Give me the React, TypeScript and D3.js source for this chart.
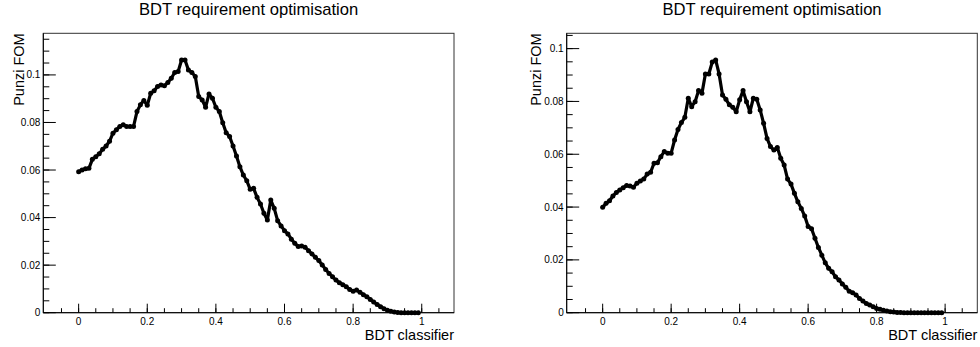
import React from "react";
import * as d3 from "d3";

// BDT classifier cut values (x) shared by both panels
const cutValues: number[] = d3.range(0, 100).map((i) => i / 100);

// Left panel Punzi FOM values
const fomLeft: number[] = [
  0.0593, 0.06, 0.0605, 0.0607, 0.0645, 0.0656, 0.0668, 0.0687, 0.0701, 0.0721,
  0.0755, 0.0769, 0.0783, 0.079, 0.0783, 0.0783, 0.0783, 0.0846, 0.0874, 0.0892,
  0.0872, 0.0923, 0.0933, 0.0951, 0.0958, 0.0954, 0.0968, 0.0986, 0.101, 0.1014,
  0.1063, 0.1063, 0.1021, 0.101, 0.0993, 0.0909, 0.0895, 0.0864, 0.092, 0.0902,
  0.0864, 0.0846, 0.0799, 0.0757, 0.0741, 0.0701, 0.0659, 0.0614, 0.0579, 0.0555,
  0.0519, 0.0523, 0.0485, 0.0457, 0.0418, 0.039, 0.0474, 0.0439, 0.0387, 0.0365,
  0.0345, 0.0331, 0.0309, 0.0292, 0.0278, 0.0281, 0.0275, 0.0261, 0.0247, 0.0233,
  0.0219, 0.0201, 0.0182, 0.0165, 0.0151, 0.0137, 0.0126, 0.0118, 0.0109, 0.0098,
  0.009, 0.0095, 0.0086, 0.0076, 0.0067, 0.0056, 0.0045, 0.0035, 0.0025, 0.0017,
  0.001, 0.0006, 0.0003, 0.0001, 0.0, 0.0, 0.0, 0.0, 0.0, 0.0,
];

// Right panel Punzi FOM values
const fomRight: number[] = [
  0.0399, 0.0414, 0.0424, 0.0442, 0.0455, 0.0465, 0.0473, 0.0482, 0.048, 0.0475,
  0.049, 0.0499, 0.0506, 0.0525, 0.0532, 0.0566, 0.0568, 0.0591, 0.061, 0.0604,
  0.0604, 0.0654, 0.0694, 0.072, 0.074, 0.0812, 0.078, 0.0799, 0.0841, 0.0831,
  0.0904, 0.0904, 0.0949, 0.0957, 0.0904, 0.0824, 0.0808, 0.0787, 0.0778, 0.0761,
  0.0806, 0.0841, 0.0799, 0.0761, 0.0812, 0.0808, 0.0768, 0.0717, 0.066, 0.0629,
  0.0616, 0.0626, 0.0585, 0.0559, 0.0506, 0.0487, 0.0452, 0.042, 0.0395, 0.0366,
  0.0326, 0.0318, 0.0282, 0.0247, 0.0218, 0.0189, 0.0168, 0.0155, 0.0136, 0.0124,
  0.0109, 0.0096, 0.0081, 0.0076, 0.0067, 0.0054, 0.0044, 0.0035, 0.0029, 0.0023,
  0.0016, 0.0013, 0.0009, 0.0006, 0.0004, 0.0003, 0.0001, 0.0001, 0.0, 0.0,
  0.0, 0.0, 0.0, 0.0, 0.0, 0.0, 0.0, 0.0, 0.0, 0.0,
];

const xMajorTicks: number[] = [0, 0.2, 0.4, 0.6, 0.8, 1];
const xTickLabels: string[] = ["0", "0.2", "0.4", "0.6", "0.8", "1"];
const yMajorTicksLeft: number[] = [0, 0.02, 0.04, 0.06, 0.08, 0.1];
const yTickLabelsLeft: string[] = ["0", "0.02", "0.04", "0.06", "0.08", "0.1"];
const yMajorTicksRight: number[] = [0, 0.02, 0.04, 0.06, 0.08, 0.1];
const yTickLabelsRight: string[] = ["0", "0.02", "0.04", "0.06", "0.08", "0.1"];

const chartTitle = "BDT requirement optimisation";
const xTitle = "BDT classifier";
const yTitle = "Punzi FOM";

const FONT = "'Liberation Sans', Arial, Helvetica, sans-serif";

type PanelProps = {
  left: number;
  right: number;
  top: number;
  bottom: number;
  xDomain: [number, number];
  yMax: number;
  values: number[];
  yTicks: number[];
  yLabels: string[];
  yTitleX: number;
};

function Panel(p: PanelProps) {
  const x = d3.scaleLinear().domain(p.xDomain).range([p.left, p.right]);
  const y = d3.scaleLinear().domain([0, p.yMax]).range([p.bottom, p.top]);
  const pts: [number, number][] = cutValues.map((c, i) => [c, p.values[i]]);
  const line = d3
    .line<[number, number]>()
    .x((d) => x(d[0]))
    .y((d) => y(d[1]));
  const xMinor = d3.range(-0.05, 1.1, 0.05).filter((v) => x(v) > p.left + 1 && x(v) < p.right - 1);
  const yMinor = d3.range(0, p.yMax, 0.005);
  const cx = (p.left + p.right) / 2;
  return (
    <g>
      <text x={cx} y={14.5} textAnchor="middle" fontFamily={FONT} fontSize={16.6} fill="#000">
        {chartTitle}
      </text>
      <rect
        x={p.left}
        y={p.top}
        width={p.right - p.left}
        height={p.bottom - p.top}
        fill="none"
        stroke="#333"
        strokeWidth={1}
      />
      {/* x ticks */}
      {xMinor.map((v, i) => (
        <line key={"xm" + i} x1={x(v)} x2={x(v)} y1={p.bottom} y2={p.bottom - 4.5} stroke="#000" strokeWidth={1} />
      ))}
      {xMajorTicks.map((v, i) => (
        <line key={"xM" + i} x1={x(v)} x2={x(v)} y1={p.bottom} y2={p.bottom - 9} stroke="#000" strokeWidth={1} />
      ))}
      {xMajorTicks.map((v, i) => (
        <text key={"xl" + i} x={x(v)} y={p.bottom + 12} textAnchor="middle" fontFamily={FONT} fontSize={10} fill="#000">
          {xTickLabels[i]}
        </text>
      ))}
      {/* y ticks */}
      {yMinor.map((v, i) => (
        <line key={"ym" + i} x1={p.left} x2={p.left + 6} y1={y(v)} y2={y(v)} stroke="#000" strokeWidth={1} />
      ))}
      {p.yTicks.map((v, i) => (
        <line key={"yM" + i} x1={p.left} x2={p.left + 12.5} y1={y(v)} y2={y(v)} stroke="#000" strokeWidth={1} />
      ))}
      {p.yTicks.map((v, i) => (
        <text key={"yl" + i} x={p.left - 3} y={y(v) + 3.5} textAnchor="end" fontFamily={FONT} fontSize={10} fill="#000">
          {p.yLabels[i]}
        </text>
      ))}
      <line x1={p.left} x2={p.right} y1={p.bottom} y2={p.bottom} stroke="#000" strokeWidth={1} />
      <line x1={p.left} x2={p.left} y1={p.top} y2={p.bottom} stroke="#000" strokeWidth={1} />
      {/* axis titles */}
      <text x={p.right} y={p.bottom + 27} textAnchor="end" fontFamily={FONT} fontSize={14.5} fill="#000">
        {xTitle}
      </text>
      <text
        transform={`translate(${p.yTitleX},${p.top}) rotate(-90)`}
        textAnchor="end"
        fontFamily={FONT}
        fontSize={14.5}
        fill="#000"
      >
        {yTitle}
      </text>
      {/* data */}
      <path d={line(pts) || ""} fill="none" stroke="#000" strokeWidth={3.2} strokeLinejoin="round" />
      {pts.map((d, i) => (
        <circle key={"pt" + i} cx={x(d[0])} cy={y(d[1])} r={2.5} fill="#000" />
      ))}
    </g>
  );
}

export default function App() {
  return (
    <svg
      width={980}
      height={347}
      style={{ position: "absolute", left: 0, top: 0, background: "#fff" }}
    >
      <rect x={0} y={0} width={980} height={347} fill="#fff" />
      <Panel
        left={43.3}
        right={454}
        top={33.3}
        bottom={312.7}
        xDomain={[-0.103, 1.094]}
        yMax={0.1175}
        values={fomLeft}
        yTicks={yMajorTicksLeft}
        yLabels={yTickLabelsLeft}
        yTitleX={24}
      />
      <Panel
        left={566.7}
        right={977.3}
        top={33.3}
        bottom={312.7}
        xDomain={[-0.105, 1.094]}
        yMax={0.1058}
        values={fomRight}
        yTicks={yMajorTicksRight}
        yLabels={yTickLabelsRight}
        yTitleX={541}
      />
    </svg>
  );
}
